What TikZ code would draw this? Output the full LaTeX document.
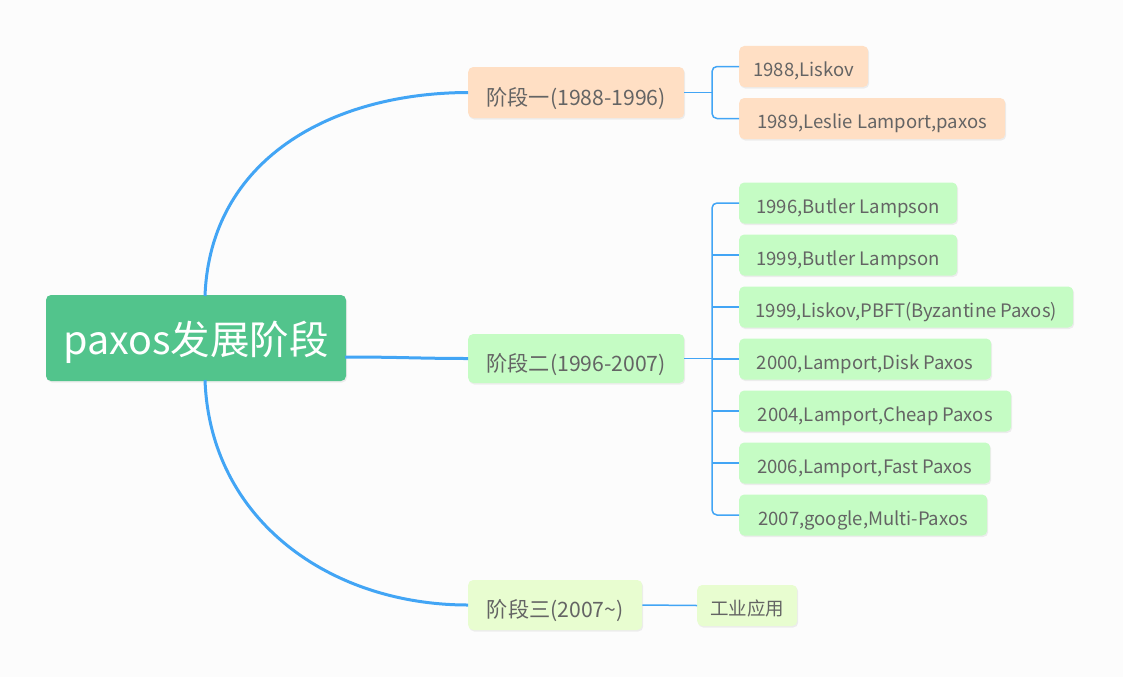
\documentclass[tikz,border=0pt]{standalone}
\usepackage{fontspec}
\setmainfont{Noto Sans CJK SC}
\usetikzlibrary{shadows}
\definecolor{bg}{RGB}{252,252,252}
\definecolor{rootc}{RGB}{82,196,140}
\definecolor{peach}{RGB}{255,223,196}
\definecolor{mint}{RGB}{197,252,196}
\definecolor{lime}{RGB}{232,253,208}
\definecolor{linec}{RGB}{66,165,245}
\definecolor{txt}{RGB}{100,100,100}
\tikzset{
  box/.style={rounded corners=5pt, inner sep=0pt, text=txt,
    drop shadow={shadow xshift=1pt, shadow yshift=-1.5pt, opacity=0.12}},
  rootbox/.style={box, fill=rootc, text=white, font=\fontsize{39.5}{42}\selectfont,
    text height=33pt, text depth=1pt},
  stagebox/.style={box, font=\fontsize{21.2}{24}\selectfont,
    text height=26pt, text depth=1pt},
  leaf/.style={box, font=\fontsize{18.5}{22}\selectfont, minimum height=41pt,
    text height=21pt, text depth=1pt},
  main/.style={draw=linec, line width=3pt},
  sub/.style={draw=linec, line width=1.5pt, rounded corners=5pt},
}
\begin{document}
\begin{tikzpicture}[x=1pt,y=-1pt]
\fill[bg] (0,0) rectangle (1123,677);
\useasboundingbox (0,0) rectangle (1123,677);

\node[rootbox, minimum width=300pt, minimum height=86pt] (root) at (196,338) {paxos发展阶段};

\node[stagebox, fill=peach, minimum width=216pt, minimum height=51pt, anchor=west] (s1) at (468,92.5) {阶段一(1988-1996)};
\node[stagebox, fill=mint, minimum width=216pt, minimum height=49pt, anchor=west] (s2) at (468,358.5) {阶段二(1996-2007)};
\node[stagebox, fill=lime, minimum width=174pt, minimum height=50pt, anchor=west] (s3) at (468,605) {阶段三(2007\char"007E)};

\node[leaf, fill=peach, minimum width=129pt, anchor=west] (a1) at (739,66.5) {1988,Liskov};
\node[leaf, fill=peach, minimum width=266pt, anchor=west] (a2) at (739,118.5) {1989,Leslie Lamport,paxos};

\node[leaf, fill=mint, minimum width=218pt, anchor=west] (b1) at (739,203) {1996,Butler Lampson};
\node[leaf, fill=mint, minimum width=218pt, anchor=west] (b2) at (739,255) {1999,Butler Lampson};
\node[leaf, fill=mint, minimum width=334pt, anchor=west] (b3) at (739,307) {1999,Liskov,PBFT(Byzantine Paxos)};
\node[leaf, fill=mint, minimum width=252pt, anchor=west] (b4) at (739,359) {2000,Lamport,Disk Paxos};
\node[leaf, fill=mint, minimum width=272pt, anchor=west] (b5) at (739,411) {2004,Lamport,Cheap Paxos};
\node[leaf, fill=mint, minimum width=251pt, anchor=west] (b6) at (739,463) {2006,Lamport,Fast Paxos};
\node[leaf, fill=mint, minimum width=248pt, anchor=west] (b7) at (739,515) {2007,google,Multi-Paxos};

\node[leaf, fill=lime, minimum width=100pt, anchor=west] (c1) at (697,605.5) {工业应用};

% main connectors
\coordinate (rtop) at (205,296);
\coordinate (rbot) at (205,380);
\coordinate (rright) at (345,357);
\draw[main] (rtop) .. controls (210,160) and (330,93) .. (s1.west);
\draw[main] (rright) .. controls (400,357) and (420,358.5) .. (s2.west);
\draw[main] (rbot) .. controls (210,520) and (330,605) .. (s3.west);

% sub connectors
\coordinate (j1) at (712,92.5);
\coordinate (j2) at (712,358.5);
\draw[sub] (s1.east) -- (j1);
\draw[sub] (a1.west) -| (j1) |- (a2.west);
\draw[sub] (s2.east) -- (j2);
\draw[sub] (b1.west) -| (j2) |- (b7.west);
\foreach \n in {b2,b3,b4,b5,b6} { \draw[sub] (j2 |- \n.west) -- (\n.west); }
\draw[sub] (s3.east) -- (c1.west);
\end{tikzpicture}
\end{document}
